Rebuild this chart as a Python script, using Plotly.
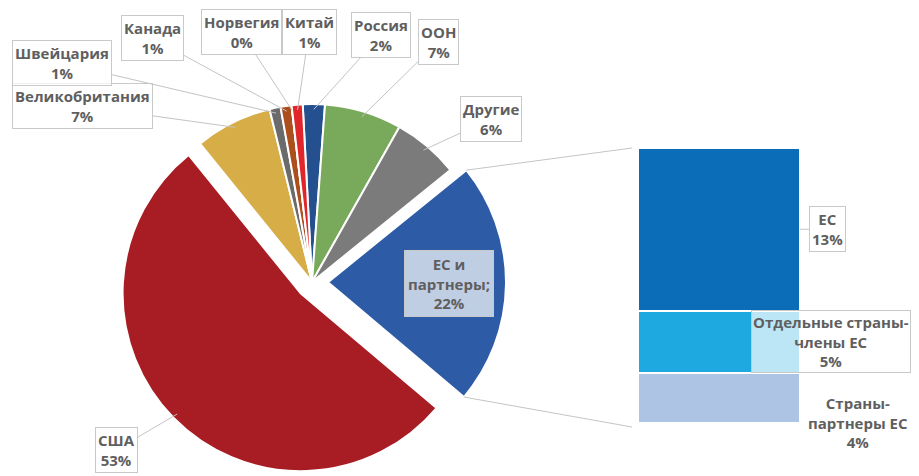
import math
import plotly.graph_objects as go

# page is 919x476; the browser body has an 8px margin, so the figure is drawn 8px in
PAGE_W, PAGE_H, OFF = 919, 476, 8
W, H = PAGE_W - OFF, PAGE_H - OFF

# ---- data ----
pie_labels = ["Россия", "ООН", "Другие", "ЕС и партнеры", "США",
              "Великобритания", "Швейцария", "Канада", "Норвегия", "Китай"]
pie_values = [2, 7, 6, 22, 53, 7, 1, 1, 0, 1]
pie_text = ["2%", "7%", "6%", "22%", "53%", "7%", "1%", "1%", "0%", "1%"]

bar_labels = ["Страны-партнеры ЕС", "Отдельные страны-члены ЕС", "ЕС"]
bar_values = [4, 5, 13]
bar_text = ["4%", "5%", "13%"]

# ---- styles ----
pie_colors = ["#24508f", "#79aa5c", "#7b7b7b", "#2d5ba5", "#a81c23",
              "#d6ad47", "#6b6b6b", "#ad4e1d", "#c8c8c8", "#e0262a"]
pie_pull = [0, 0, 0, 0.09, 0.09, 0, 0, 0, 0, 0]
bar_colors = ["#aec4e4", "#1fa9e1", "#0b6cb7"]
ROT = -3
TXT = "#5f5f5f"
FONT = dict(family="Open Sans, DejaVu Sans, sans-serif", size=15, color=TXT, weight="bold")
LINE = "#c4c4c4"
BOXLINE = "#c9c9c9"
BOXBG = "rgba(255,255,255,0.7)"


def fx(x):  # page px -> figure px
    return x - OFF


def fy(y):
    return y - OFF


# layout regions given in page pixels
PIE_DX = (fx(118) / W, fx(506) / W)
PIE_DY = (0.0, 1 - fy(88) / H)
BAR_DX = (fx(638) / W, fx(800) / W)
BAR_DY = (1 - fy(423) / H, 1 - fy(148) / H)

fig = go.Figure()
fig.add_trace(go.Pie(
    labels=pie_labels, values=pie_values, sort=False, direction="clockwise",
    rotation=ROT, pull=pie_pull, textinfo="none", hoverinfo="label+percent",
    marker=dict(colors=pie_colors, line=dict(color="white", width=2)),
    domain=dict(x=list(PIE_DX), y=list(PIE_DY)), showlegend=False,
))

for lab, v, c in zip(bar_labels, bar_values, bar_colors):
    fig.add_trace(go.Bar(x=[0], y=[v], name=lab, width=1,
                         marker=dict(color=c, line=dict(color="white", width=2)),
                         showlegend=False, hoverinfo="name+y"))

# ---- pie geometry in figure px (same rule plotly uses) ----
bw = W * (PIE_DX[1] - PIE_DX[0]); bh = H * (PIE_DY[1] - PIE_DY[0])
r = min(bw, bh) / (2 + 2 * max(pie_pull))
cx = W * (PIE_DX[0] + PIE_DX[1]) / 2
cy = H * (1 - PIE_DY[0]) - bh / 2
total = sum(pie_values)
geo = []
a = ROT
for v, p in zip(pie_values, pie_pull):
    a0, a1 = a, a + 360 * v / total
    mid = (a0 + a1) / 2
    m = math.radians(mid)
    geo.append((a0, a1, mid, cx + p * r * math.sin(m), cy - p * r * math.cos(m)))
    a = a1


def pt(i, ang, k=1.0):
    _, _, _, ox, oy = geo[i]
    t = math.radians(ang)
    return ox + k * r * math.sin(t), oy - k * r * math.cos(t)


def paper(x, y):  # figure px -> paper
    return x / W, 1 - y / H


# label box centres (page px)
label_pos = {
    "Великобритания": (82, 106), "Швейцария": (62, 63), "Канада": (152, 38),
    "Норвегия": (241, 32), "Китай": (309, 32), "Россия": (381, 35),
    "ООН": (438, 42), "Другие": (491, 119), "США": (116, 450),
}
ann = []
for i, lab in enumerate(pie_labels):
    if lab not in label_pos:
        continue
    hx, hy = pt(i, geo[i][2], 0.97)
    bx, by = fx(label_pos[lab][0]), fy(label_pos[lab][1])
    px_, py_ = paper(hx, hy)
    ann.append(dict(x=px_, y=py_, xref="paper", yref="paper", ax=bx - hx, ay=by - hy,
                    text=f"{lab}<br>{pie_text[i]}", showarrow=True, arrowhead=0, arrowwidth=1,
                    arrowcolor=LINE, bordercolor=BOXLINE, borderwidth=1, borderpad=2,
                    bgcolor=BOXBG, font=FONT, align="center"))

# label inside EU+partners slice
ieu = pie_labels.index("ЕС и партнеры")
ex, ey = pt(ieu, geo[ieu][2], 0.68)
ann.append(dict(x=paper(ex, ey)[0], y=paper(ex, ey)[1], xref="paper", yref="paper", showarrow=False,
                xanchor="center", yanchor="middle",
                text="ЕС и<br>партнеры;<br>" + pie_text[ieu], font=FONT, align="center",
                bordercolor=BOXLINE, borderwidth=1, borderpad=3, bgcolor=BOXBG))

# bar labels
ann.append(dict(x=0.5, y=bar_values[0] + bar_values[1] + bar_values[2] / 2, xref="x", yref="y",
                ax=27, ay=0, showarrow=True, arrowhead=0, arrowwidth=1, arrowcolor=LINE,
                text=f"{bar_labels[2]}<br>{bar_text[2]}", font=FONT, align="center",
                bordercolor=BOXLINE, borderwidth=1, borderpad=2, bgcolor=BOXBG))
ann.append(dict(x=fx(831) / W, y=bar_values[0] + bar_values[1] / 2, xref="paper", yref="y", showarrow=False,
                xanchor="center", yanchor="middle",
                text="Отдельные страны-<br>члены ЕС<br>" + bar_text[1], font=FONT, align="center",
                bordercolor=BOXLINE, borderwidth=1, borderpad=1, bgcolor=BOXBG))
ann.append(dict(x=fx(858) / W, y=1 - fy(422) / H, xref="paper", yref="paper", showarrow=False,
                xanchor="center", yanchor="middle",
                text="Страны-<br>партнеры ЕС<br>" + bar_text[0], font=FONT, align="center"))

# connector lines from EU slice to the bar
t0x, t0y = pt(ieu, geo[ieu][0])
t1x, t1y = pt(ieu, geo[ieu][1])
barL = BAR_DX[0] * W - 6
barT = (1 - BAR_DY[1]) * H
barB = (1 - BAR_DY[0]) * H + 4
shapes = [
    dict(type="line", xref="paper", yref="paper", x0=paper(t0x, t0y)[0], y0=paper(t0x, t0y)[1],
         x1=paper(barL, barT)[0], y1=paper(barL, barT)[1], line=dict(color=LINE, width=1)),
    dict(type="line", xref="paper", yref="paper", x0=paper(t1x, t1y)[0], y0=paper(t1x, t1y)[1],
         x1=paper(barL, barB)[0], y1=paper(barL, barB)[1], line=dict(color=LINE, width=1)),
]

fig.update_layout(
    width=W, height=H, margin=dict(l=0, r=0, t=0, b=0),
    paper_bgcolor="white", plot_bgcolor="white", barmode="stack",
    xaxis=dict(domain=list(BAR_DX), range=[-0.5, 0.5], visible=False, fixedrange=True),
    yaxis=dict(domain=list(BAR_DY), range=[0, sum(bar_values)], visible=False, fixedrange=True),
    annotations=ann, shapes=shapes, font=FONT,
)
fig.write_html("out.html")
